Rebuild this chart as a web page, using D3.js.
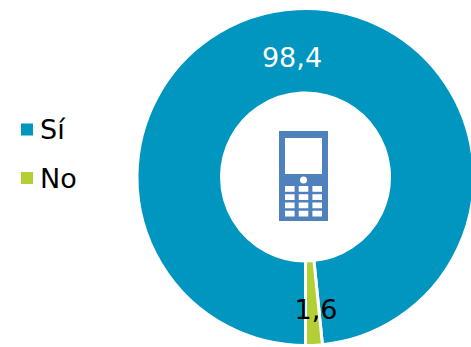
<!DOCTYPE html>
<html>
<head>
<meta charset="utf-8">
<script src="https://cdn.jsdelivr.net/npm/d3@7"></script>
<style>
html,body{margin:0;padding:0;background:#fff}
svg{display:block}
text{font-family:"DejaVu Sans",sans-serif}
</style>
</head>
<body>
<svg id="chart" width="471" height="347"></svg>
<script>
const categories = ["Sí", "No"];
const values = [98.4, 1.6];
const valueLabels = ["98,4", "1,6"];
const sliceColors = ["#0096c0", "#b2cf35"];
const labelColors = ["#ffffff", "#000000"];

const width = 471, height = 347;
const cx = 305.5, cy = 177, outerR = 168.5, innerR = 84;

const svg = d3.select("#chart");
const color = d3.scaleOrdinal().domain(categories).range(sliceColors);

const pie = d3.pie().sort(null).startAngle(Math.PI).endAngle(3 * Math.PI);
const arc = d3.arc().innerRadius(innerR).outerRadius(outerR);
const slices = pie(values);

const ring = svg.append("g").attr("transform", `translate(${cx},${cy})`);
ring.selectAll("path")
  .data(slices)
  .join("path")
  .attr("d", arc)
  .attr("fill", (d, i) => color(categories[i]))
  .attr("stroke", "#fff")
  .attr("stroke-width", 3);

// Value labels: large slice sits at the top of the ring, small one on its bottom edge
const labelPos = [[-13.5, -110], [10.5, 142]];
ring.selectAll("text")
  .data(slices)
  .join("text")
  .attr("x", (d, i) => labelPos[i][0])
  .attr("y", (d, i) => labelPos[i][1])
  .attr("text-anchor", "middle")
  .attr("font-size", 27)
  .attr("fill", (d, i) => labelColors[i])
  .text((d, i) => valueLabels[i]);

// Legend
const legend = svg.append("g");
const legendY = d3.scalePoint().domain(categories).range([129.5, 178]);
legend.selectAll("rect")
  .data(categories)
  .join("rect")
  .attr("x", 21)
  .attr("y", d => legendY(d) - 6)
  .attr("width", 12)
  .attr("height", 12)
  .attr("fill", d => color(d));
legend.selectAll("text")
  .data(categories)
  .join("text")
  .attr("x", 40)
  .attr("y", d => legendY(d) + 9.5)
  .attr("font-size", 27)
  .attr("fill", "#000")
  .text(d => d);

// Handset icon in the middle of the ring
const phone = svg.append("g").attr("transform", "translate(279,131)");
const phoneBlue = "#4f81bd";
phone.append("rect").attr("width", 49).attr("height", 90).attr("fill", phoneBlue);
phone.append("rect").attr("x", 6).attr("y", 7).attr("width", 37).attr("height", 36).attr("fill", "#fff");
phone.append("circle").attr("cx", 24.5).attr("cy", 49).attr("r", 3.5).attr("fill", "#fff");
const keyCols = d3.scaleBand().domain(d3.range(3)).range([6, 43]).paddingInner(0.3);
const keyRows = d3.scaleBand().domain(d3.range(4)).range([55, 85.5]).paddingInner(0.3);
phone.selectAll("rect.key")
  .data(d3.cross(d3.range(4), d3.range(3)))
  .join("rect")
  .attr("class", "key")
  .attr("x", d => keyCols(d[1]))
  .attr("y", d => keyRows(d[0]))
  .attr("width", keyCols.bandwidth())
  .attr("height", keyRows.bandwidth())
  .attr("fill", "#fff");
</script>
</body>
</html>
